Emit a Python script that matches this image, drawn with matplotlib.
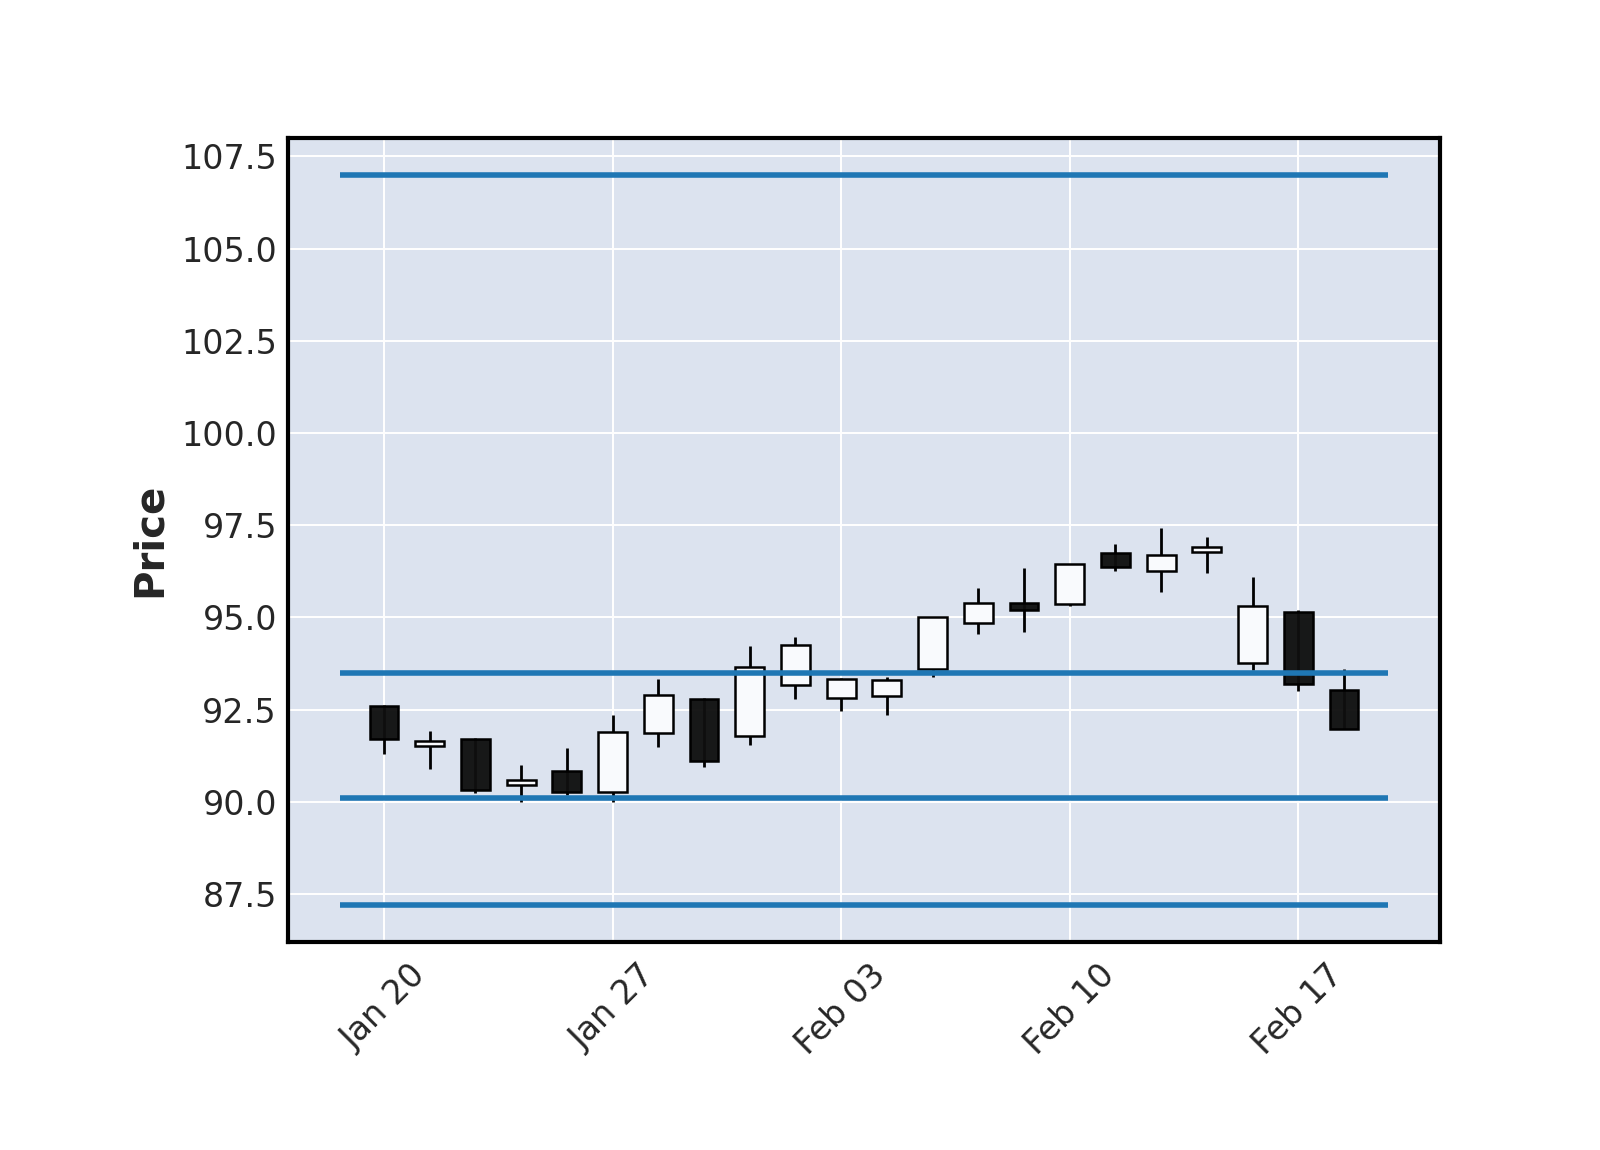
import matplotlib
matplotlib.use("Agg")
import matplotlib.pyplot as plt
import numpy as np

dates = ["Jan 20", "Jan 21", "Jan 22", "Jan 23", "Jan 24",
         "Jan 27", "Jan 28", "Jan 29", "Jan 30", "Jan 31",
         "Feb 03", "Feb 04", "Feb 05", "Feb 06", "Feb 07",
         "Feb 10", "Feb 11", "Feb 12", "Feb 13", "Feb 14",
         "Feb 17", "Feb 18"]
opens = [92.60, 91.50, 91.70, 90.46, 90.83, 90.27, 91.87, 92.78, 91.79, 93.17,
         92.82, 92.87, 93.59, 94.84, 95.40, 95.37, 96.75, 96.27, 96.77, 93.77,
         95.15, 93.04]
highs = [92.62, 91.92, 91.72, 90.99, 91.47, 92.35, 93.33, 92.82, 94.23, 94.48,
         93.36, 93.37, 95.00, 95.79, 96.33, 96.44, 96.98, 97.43, 97.18, 96.09,
         95.21, 93.60]
lows = [91.29, 90.88, 90.24, 89.98, 90.19, 89.98, 91.48, 90.94, 91.53, 92.78,
        92.45, 92.34, 93.37, 94.55, 94.61, 95.32, 96.25, 95.70, 96.20, 93.56,
        93.00, 91.97]
closes = [91.69, 91.64, 90.32, 90.59, 90.27, 91.90, 92.89, 91.11, 93.66, 94.24,
          93.34, 93.30, 95.00, 95.40, 95.19, 96.44, 96.36, 96.70, 96.90, 95.32,
          93.18, 91.98]
hline_levels = [107.0, 93.5, 90.1, 87.2]

yticks = [87.5, 90.0, 92.5, 95.0, 97.5, 100.0, 102.5, 105.0, 107.5]
xtick_idx = [0, 5, 10, 15, 20]

plt.rcParams['font.family'] = ['DejaVu Sans']

fig = plt.figure(figsize=(8, 5.75), dpi=200)
ax = fig.add_axes([0.180, 0.181, 0.720, 0.699])
ax.set_facecolor('#DCE3EF')

x = np.arange(len(dates))
o = np.array(opens); c = np.array(closes)
h = np.array(highs); l = np.array(lows)
up = c >= o

# wicks
ax.vlines(x, l, h, color='black', linewidth=1.0, zorder=2)
# bodies
bottoms = np.minimum(o, c)
heights = np.abs(c - o)
colors = ['#F9FAFD' if u else (0.06, 0.06, 0.06, 0.96) for u in up]
ax.bar(x, heights, bottom=bottoms, width=0.63, color=colors,
       edgecolor='black', linewidth=0.9, zorder=3)

# horizontal lines
ax.hlines(hline_levels, x[0] - 0.96, x[-1] + 0.96, color='#1f77b4',
          linewidth=2.0, zorder=4)

ax.set_xlim(-2.1, 23.1)
ax.set_ylim(86.2, 108.0)
ax.set_yticks(yticks)
ax.set_yticklabels([f"{v:.1f}" for v in yticks])
ax.set_xticks(xtick_idx)
ax.set_xticklabels([dates[i] for i in xtick_idx], rotation=45, ha='center')

ax.grid(True, color='white', linewidth=0.7, zorder=0)
ax.set_axisbelow(True)
ax.tick_params(axis='both', length=0, labelsize=12, labelcolor='#262626')
ax.tick_params(axis='y', pad=4)
ax.tick_params(axis='x', pad=6)
for s in ax.spines.values():
    s.set_linewidth(1.5)
    s.set_color('black')

ax.set_ylabel('Price', fontsize=14.5, fontweight='bold', color='#262626', labelpad=4)

fig.savefig('out.png', dpi=200)
